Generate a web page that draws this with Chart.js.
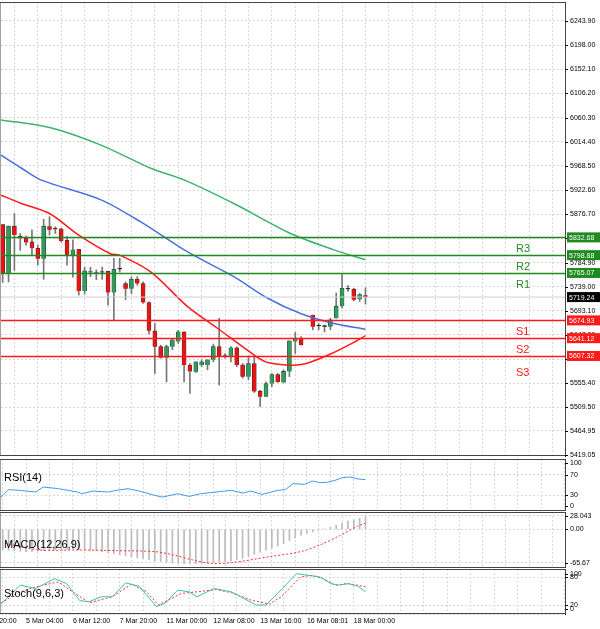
<!DOCTYPE html>
<html><head><meta charset="utf-8">
<script src="https://cdn.jsdelivr.net/npm/chart.js@4/dist/chart.umd.min.js"></script>
<style>
body{margin:0;background:#fff;width:600px;height:629px;overflow:hidden;position:relative;font-family:"DejaVu Sans",sans-serif}
canvas{position:absolute;left:0}
</style></head><body>
<canvas id="c0" width="600" height="458" style="top:0"></canvas>
<canvas id="c1" width="600" height="52" style="top:459px"></canvas>
<canvas id="c2" width="600" height="56" style="top:512px"></canvas>
<canvas id="c3" width="600" height="60" style="top:569px"></canvas>
<script>
// ---- candles (slot index, open, high, low, close) ----
const opens  = [5857,5764,5854,5835,5832,5824,5812,5792,5853,5849,5849,5827,5799,5810,5731,5766,5764,5767,5768,5728,5772,5745,5735,5753,5745,5709,5655,5625,5604,5625,5635,5653,5590,5577,5590,5590,5600,5625,5606,5606,5623,5590,5568,5593,5540,5530,5555,5572,5557,5578,5635,5641,null,5685,5664,5663,5663,5679,5702,5734,5734,5715,5722];
const highs  = [5857,5854,5878,5840,5835,5847,5818,5867,5872,5853,5850,5834,5828,5810,5776,5776,5771,5776,5768,5793,5793,5748,5758,5758,5748,5710,5669,5628,5628,5641,5656,5653,5593,5596,5600,5600,5630,5679,5612,5625,5625,5593,5606,5606,5542,5558,5574,5574,5581,5636,5652,5644,null,5685,5669,5666,5679,5727,5762,5741,5736,5726,5737];
const lows   = [5747,5748,5770,5808,5818,5799,5780,5753,5837,5840,5824,5780,5757,5723,5725,5758,5752,5753,5704,5676,5767,5714,5726,5742,5707,5649,5574,5603,5558,5619,5631,5558,5536,5576,5587,5581,5596,5552,5603,5596,5587,5565,5562,5538,5511,5530,5549,5557,5556,5568,5612,5628,null,5657,5657,5653,5657,5679,5698,5730,5712,5711,5706];
const closes = [5764,5854,5837,5831,5823,5812,5792,5854,5847,5848,5826,5799,5809,5731,5769,5767,5765,5766,5728,5772,5772,5735,5753,5745,5709,5655,5625,5604,5625,5638,5653,5590,5578,5596,5596,5600,5625,5607,5606,5623,5590,5568,5593,5540,5530,5555,5572,5558,5578,5636,5641,5628,null,5663,5664,5663,5676,5702,5736,5734,5714,5724,5720];
// moving averages: [slot, value]
const maRed   = [[-0.29,5913],[3,5898],[8,5878],[13,5837],[18.5,5801],[20,5799],[25.3,5767],[31.6,5701],[36.7,5660],[43,5609],[45.3,5595],[51,5591],[56,5611],[60,5633],[62,5646]];
const maBlue  = [[-0.29,5989],[3.1,5965],[6.5,5942],[16.8,5904],[23.6,5862],[31.6,5805],[39.5,5758],[45.3,5717],[50.9,5688],[56.6,5669],[62,5658]];
const maGreen = [[-0.29,6056],[8.2,6041],[16.8,6008],[25.3,5964],[31,5942],[39.5,5897],[49.2,5840],[56.6,5809],[62,5790]];
// levels
const levelNames  = ["R3","R2","R1","S1","S2","S3"];
const levelValues = [5832.68,5798.88,5765.07,5674.93,5641.12,5607.32];
const lastPrice = 5719.24;
const priceTicks = [6243.90,6198.00,6152.10,6106.20,6060.30,6014.40,5968.50,5922.60,5876.70,5830.80,5784.90,5739.00,5693.10,5647.20,5601.30,5555.40,5509.50,5464.95,5419.05];
// RSI
const rsi = [[-0.29,26.8],[1.02,41],[2.99,39.7],[5.62,36.5],[6.93,46.1],[9.55,42.9],[12.8,36.5],[13.5,33.2],[15.5,38.4],[18.1,36.5],[19.4,39.7],[21.4,42.9],[23.3,38.4],[26,30],[27.3,26.8],[29.9,33.2],[31.9,28.1],[33.8,33.2],[36.5,36.5],[39.1,39.7],[41.1,34.5],[42.4,38.4],[44.3,31.9],[47,39.7],[48.3,41],[49.6,52.6],[51.6,51.3],[52.9,57.7],[54.2,54.5],[55.5,55.2],[56.8,59],[58.1,64.2],[59.4,65.5],[60.7,61.6],[62,60.3]];
// MACD
const macdHist = [-41,-41,-42,-43,-44,-44,-43,-42,-41,-40,-39,-39,-39,-40,-40,-41,-42,-44,-46,-48,-50,-52,-54,-56,-58,-60,-62,-63,-65,-66,-67,-68,-68,-67,-67,-66,-65,-64,-63,-62,-60,-57,-53,-49,-45,-41,-37,-33,-28,-22,-17,-12,-8,-5,-2,1,4,8,12,16,19,22,25];
const macdSignal = [[0.37,-27.5],[6.27,-40.6],[12.8,-40.6],[19.4,-41.9],[26,-43.9],[29.2,-50.4],[32.5,-60.3],[35.5,-66.8],[39.1,-65.5],[45.7,-53.7],[50.9,-43.9],[54.2,-30.8],[57.5,-13.1],[60.7,6.6],[62,11.8]];
// Stochastic
const stochK = [[-0.3,22.2],[3,64],[5.6,56.6],[8.9,78.6],[10.9,67.6],[13.2,29.5],[14.8,27.3],[16.8,38.3],[18.7,38.3],[21,69.1],[23.3,61.8],[26.3,16.3],[27.9,25.1],[29.9,53],[31.9,49.3],[33.2,38.3],[36.1,56.6],[39.1,49.3],[43.3,20],[45,20],[47,45.6],[50.2,89.6],[52.2,85.9],[54.2,82.3],[56.1,67.6],[57.4,64],[59.1,67.6],[60.7,61.8],[62,49.3]];
const stochD = [[-0.3,23.7],[2.3,45.6],[5.6,60.3],[9.5,71.3],[11.5,53],[14.8,25.1],[18.7,38.3],[22,66.2],[24.6,49.3],[26.6,20],[30.5,45.6],[33.2,49.3],[36.5,54.4],[39.1,47.1],[42.4,31],[45.6,22.2],[47.6,38.3],[50.9,82.3],[52.9,85.9],[54.8,78.6],[56.8,64],[58.8,67.6],[60.7,64],[62,60.3]];
// x axis
const xGridSlots = [-4,0,4,8,12,16,20,24,28,32,36,40,44,48,52,56,60,64,68,72,76,80,84,88,92,96];
const xLabelSlots = [-4,4,12,20,28,36,44,52,60];
const xLabels = ["4 Mar 20:00","5 Mar 04:00","6 Mar 12:00","7 Mar 20:00","11 Mar 00:00","12 Mar 08:00","13 Mar 16:00","16 Mar 08:01","18 Mar 00:00"];

const X_MIN=-0.29, X_MAX=96.1;
const GREEN='#1f8a1f', RED='#ff1a1a';
const FONT='"Liberation Sans", Arial, sans-serif';

function xScale(){
  return {type:'linear',min:X_MIN,max:X_MAX,offset:false,
    afterBuildTicks:s=>{s.ticks=xGridSlots.filter(v=>v>=0).map(v=>({value:v}));},
    afterFit:s=>{s.height=0;},
    grid:{color:'#d8d8d8',drawTicks:false},border:{display:false,dash:[2,2]},
    ticks:{display:false}};
}
function yScale(min,max,ticks){
  return {position:'right',min,max,
    afterBuildTicks:s=>{s.ticks=ticks.map(v=>({value:v}));},
    afterFit:s=>{s.width=35;},
    grid:{color:'#d8d8d8',drawTicks:false},border:{color:'#000',dash:[2,2]},
    ticks:{display:false}};
}
function yLabels(ticks,labels){return {id:'yl',afterDraw(c){const x=c.ctx,a=c.chartArea,y=c.scales.y;x.save();
  x.font='7px '+FONT;x.fillStyle='#000';x.textBaseline='middle';x.strokeStyle='#000';x.lineWidth=1;
  ticks.forEach((v,i)=>{const p=Math.round(y.getPixelForValue(v))+0.5;x.beginPath();x.moveTo(a.right,p);x.lineTo(a.right+3,p);x.stroke();
    x.fillText(labels[i],a.right+5,p);});x.restore();}};}
function xLabelPlugin(){return {id:'xl',afterDraw(c){const x=c.ctx,a=c.chartArea,s=c.scales.x;x.save();
  x.font='7px '+FONT;x.fillStyle='#000';x.textBaseline='top';
  xLabelSlots.forEach((v,i)=>{x.fillText(xLabels[i],s.getPixelForValue(v),a.bottom+4);});x.restore();}};}
const frame={id:'frame',afterDraw(c){const a=c.chartArea,x=c.ctx;x.save();x.strokeStyle='#444';x.lineWidth=1;
  x.strokeRect(a.left-1,a.top+0.5,a.right-a.left+1.5,a.bottom-a.top-1);x.restore();}};
function title(t,ypx){return {id:'t'+t,afterDraw(c){const x=c.ctx;x.save();x.font='11px '+FONT;x.fillStyle='#000';x.textBaseline='middle';x.fillText(t,4,ypx);x.restore();}};}
const base={responsive:false,animation:false,plugins:{legend:{display:false},tooltip:{enabled:false}}};

// ---- main chart ----
const slots=opens.map((_,i)=>i).filter(i=>opens[i]!=null);
const wickData=slots.map(i=>({x:i,y:[lows[i],highs[i]]}));
const bodyData=slots.map(i=>({x:i,y:[opens[i],closes[i]]}));
const bodyCol=slots.map(i=>closes[i]>opens[i]?'#2e9e5b':(closes[i]<opens[i]?'#ee1111':'#333'));
const levelsPlugin={id:'levels',afterDatasetsDraw(c){
  const x=c.ctx,a=c.chartArea,y=c.scales.y;x.save();
  let py=y.getPixelForValue(lastPrice);
  x.strokeStyle='#d0d0d0';x.lineWidth=1;x.beginPath();x.moveTo(a.left,py);x.lineTo(a.right,py);x.stroke();
  levelValues.forEach((v,k)=>{const p=Math.round(y.getPixelForValue(v))+0.5;const col=k<3?GREEN:RED;
    x.strokeStyle=col;x.lineWidth=1.5;x.beginPath();x.moveTo(a.left,p);x.lineTo(a.right,p);x.stroke();
    x.font='11px '+FONT;x.fillStyle=k<3?'#2a8a2a':RED;x.textBaseline='middle';
    x.fillText(levelNames[k],516,p+(k==5?16:11));});
  x.restore();},
  afterDraw(c){const x=c.ctx,a=c.chartArea,y=c.scales.y;x.save();
  const box=(v,bg)=>{const p=y.getPixelForValue(v);x.fillStyle=bg;x.fillRect(a.right+2,p-5,34,10);
    x.fillStyle='#fff';x.font='7px '+FONT;x.textBaseline='middle';x.fillText(v.toFixed(2),a.right+4,p+0.5);};
  levelValues.forEach((v,k)=>box(v,k<3?GREEN:RED));box(lastPrice,'#000');
  x.restore();}};
new Chart(document.getElementById('c0'),{type:'bar',
  data:{datasets:[
    {type:'line',data:maRed.map(p=>({x:p[0],y:p[1]})),borderColor:'#ff1a1a',borderWidth:1.5,pointRadius:0,tension:0.3},
    {type:'line',data:maBlue.map(p=>({x:p[0],y:p[1]})),borderColor:'#4a6fe0',borderWidth:1.5,pointRadius:0,tension:0.3},
    {type:'line',data:maGreen.map(p=>({x:p[0],y:p[1]})),borderColor:'#3cb371',borderWidth:1.5,pointRadius:0,tension:0.3},
    {data:bodyData,backgroundColor:bodyCol,borderColor:'#333',borderWidth:0.6,barThickness:4,minBarLength:1,grouped:false,order:1},
    {data:wickData,backgroundColor:'#777',barThickness:1,grouped:false,order:2}
  ]},
  options:{...base,layout:{padding:{top:2,bottom:2,left:1}},
    scales:{x:xScale(),y:yScale(5417.2,6280,priceTicks)}},
  plugins:[frame,yLabels(priceTicks,priceTicks.map(v=>v.toFixed(2))),levelsPlugin]});

// ---- RSI ----
new Chart(document.getElementById('c1'),{type:'line',
  data:{datasets:[{data:rsi.map(p=>({x:p[0],y:p[1]})),borderColor:'#3d9be9',borderWidth:1,pointRadius:0}]},
  options:{...base,layout:{padding:{left:1}},scales:{x:xScale(),y:yScale(0,100,[100,70,30,0])}},
  plugins:[frame,yLabels([92,70,30,10],['100','70','30','0']),title('RSI(14)',19)]});

// ---- MACD ----
new Chart(document.getElementById('c2'),{type:'bar',
  data:{datasets:[
    {type:'line',data:macdSignal.map(p=>({x:p[0],y:p[1]})),borderColor:'#ff3030',borderWidth:1,borderDash:[2,2],pointRadius:0,tension:0.3},
    {data:macdHist.map((v,i)=>({x:i,y:v})),backgroundColor:'#bbb',barThickness:1}
  ]},
  options:{...base,layout:{padding:{left:1}},scales:{x:xScale(),y:yScale(-76,34,[28.043,0,-65.67])}},
  plugins:[frame,yLabels([26,0,-65.67],['28.043','0.00','-65.67']),title('MACD(12,26,9)',33)]});

// ---- Stoch ----
new Chart(document.getElementById('c3'),{type:'line',
  data:{datasets:[
    {data:stochK.map(p=>({x:p[0],y:p[1]})),borderColor:'#3cc0b0',borderWidth:1,pointRadius:0},
    {data:stochD.map(p=>({x:p[0],y:p[1]})),borderColor:'#ff3030',borderWidth:1,borderDash:[2,2],pointRadius:0}
  ]},
  options:{...base,layout:{padding:{left:1,bottom:15}},scales:{x:xScale(),y:yScale(0,100,[100,80,20,0])}},
  plugins:[frame,yLabels([89,82,20,11],['100','80','20','0']),xLabelPlugin(),title('Stoch(9,6,3)',25)]});
</script>
</body></html>
